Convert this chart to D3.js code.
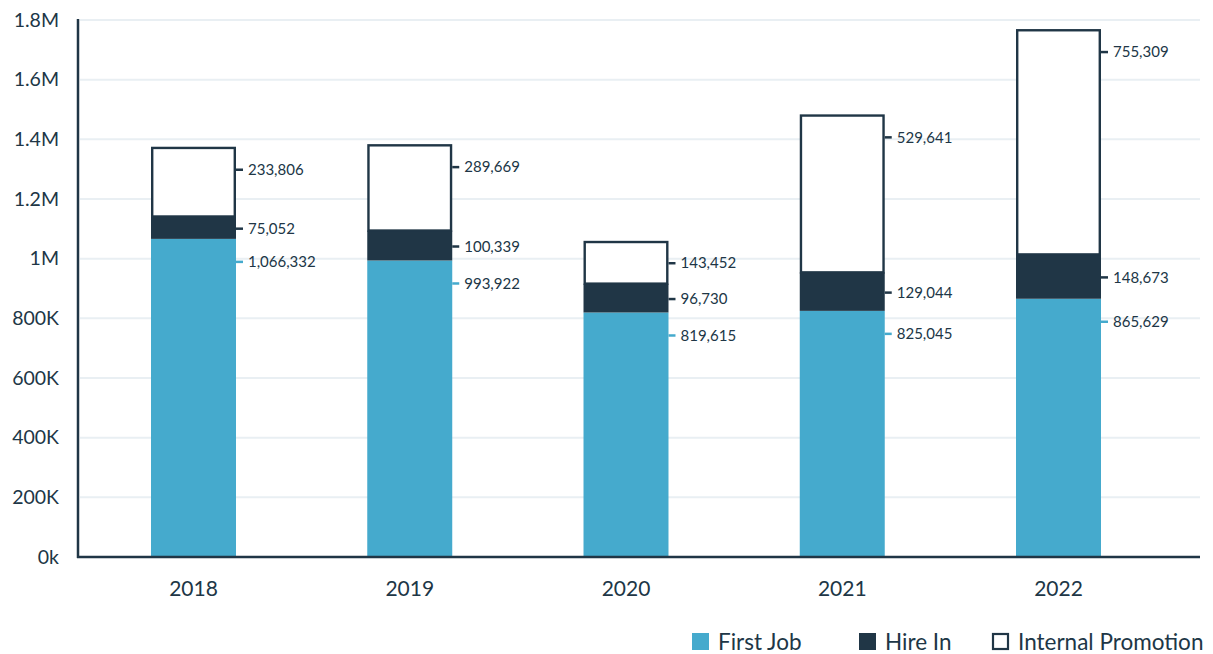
<!DOCTYPE html>
<html><head><meta charset="utf-8">
<script src="https://cdn.jsdelivr.net/npm/d3@7"></script>
<style>body{margin:0;background:#fff;} svg{display:block;font-family:Lato,"Open Sans",sans-serif;}</style>
</head><body>
<script>
const years = ["2018","2019","2020","2021","2022"];
const firstJob = [1066332, 993922, 819615, 825045, 865629];
const hireIn = [75052, 100339, 96730, 129044, 148673];
const internalPromotion = [233806, 289669, 143452, 529641, 755309];
const yTicks = [0, 200000, 400000, 600000, 800000, 1000000, 1200000, 1400000, 1600000, 1800000];
const yTickLabels = ["0k","200K","400K","600K","800K","1M","1.2M","1.4M","1.6M","1.8M"];
const seriesNames = ["First Job","Hire In","Internal Promotion"];

const W = 1213, H = 654;
const blue = "#45aacd", dark = "#203646", grid = "#e9eff3";
const svg = d3.select("body").append("svg").attr("width", W).attr("height", H);

const y = d3.scaleLinear().domain([0, 1800000]).range([557, 20]);
const x = d3.scaleBand().domain(years).range([78, 1174]).paddingInner(0.607).paddingOuter(0.3376);

// grid
svg.append("g").selectAll("line").data(yTicks.slice(1)).join("line")
  .attr("x1", 80).attr("x2", 1200).attr("y1", d => y(d)).attr("y2", d => y(d))
  .attr("stroke", grid).attr("stroke-width", 2);

// y labels
svg.append("g").selectAll("text").data(yTicks).join("text")
  .attr("x", 59).attr("y", d => y(d)).attr("dy", "0.35em").attr("text-anchor", "end")
  .attr("fill", dark).attr("font-size", 19.5).text((d, i) => yTickLabels[i]);

// stacked data
const rows = years.map((yr, i) => ({year: yr, fj: firstJob[i], hi: hireIn[i], ip: internalPromotion[i]}));
const stack = d3.stack().keys(["fj","hi","ip"])(rows);

const g = svg.append("g");
stack.forEach((layer, li) => {
  layer.forEach((d, i) => {
    const x0 = x(years[i]), bw = x.bandwidth();
    const top = y(d[1]), bot = y(d[0]);
    if (li === 2) {
      g.append("rect").attr("x", x0 + 1.2).attr("y", top + 1.2).attr("width", bw - 2.4).attr("height", bot - top - 1.2)
        .attr("fill", "#fff").attr("stroke", dark).attr("stroke-width", 2.4);
    } else {
      g.append("rect").attr("x", x0).attr("y", top).attr("width", bw).attr("height", bot - top)
        .attr("fill", li === 0 ? blue : dark);
    }
    const h = bot - top;
    const ly = top + Math.min(23, h / 2 + 1);
    g.append("line").attr("x1", x0 + bw).attr("x2", x0 + bw + 7).attr("y1", ly).attr("y2", ly)
      .attr("stroke", li === 0 ? blue : dark).attr("stroke-width", 2.5);
    g.append("text").attr("x", x0 + bw + 12).attr("y", ly).attr("dy", "0.35em")
      .attr("fill", dark).attr("font-size", 15).text(d3.format(",")(d[1] - d[0]));
  });
});

// axes lines
svg.append("line").attr("x1", 78).attr("x2", 78).attr("y1", 19).attr("y2", 558).attr("stroke", dark).attr("stroke-width", 2.5);
svg.append("line").attr("x1", 77).attr("x2", 1200).attr("y1", 557).attr("y2", 557).attr("stroke", dark).attr("stroke-width", 2.5);

// x labels
svg.append("g").selectAll("text").data(years).join("text")
  .attr("x", d => x(d) + x.bandwidth() / 2).attr("y", 589).attr("dy", "0.35em")
  .attr("text-anchor", "middle").attr("fill", dark).attr("font-size", 21).text(d => d);

// legend
const legendX = [692, 859, 992];
const lg = svg.append("g");
seriesNames.forEach((name, i) => {
  if (i === 2) {
    lg.append("rect").attr("x", legendX[i] + 1).attr("y", 634).attr("width", 15).attr("height", 15)
      .attr("fill", "#fff").attr("stroke", dark).attr("stroke-width", 2.2);
  } else {
    lg.append("rect").attr("x", legendX[i]).attr("y", 633).attr("width", 17).attr("height", 17)
      .attr("fill", i === 0 ? blue : dark);
  }
  lg.append("text").attr("x", legendX[i] + 26).attr("y", 642).attr("dy", "0.35em")
    .attr("fill", dark).attr("font-size", 22.5).text(name);
});
</script>
</body></html>
